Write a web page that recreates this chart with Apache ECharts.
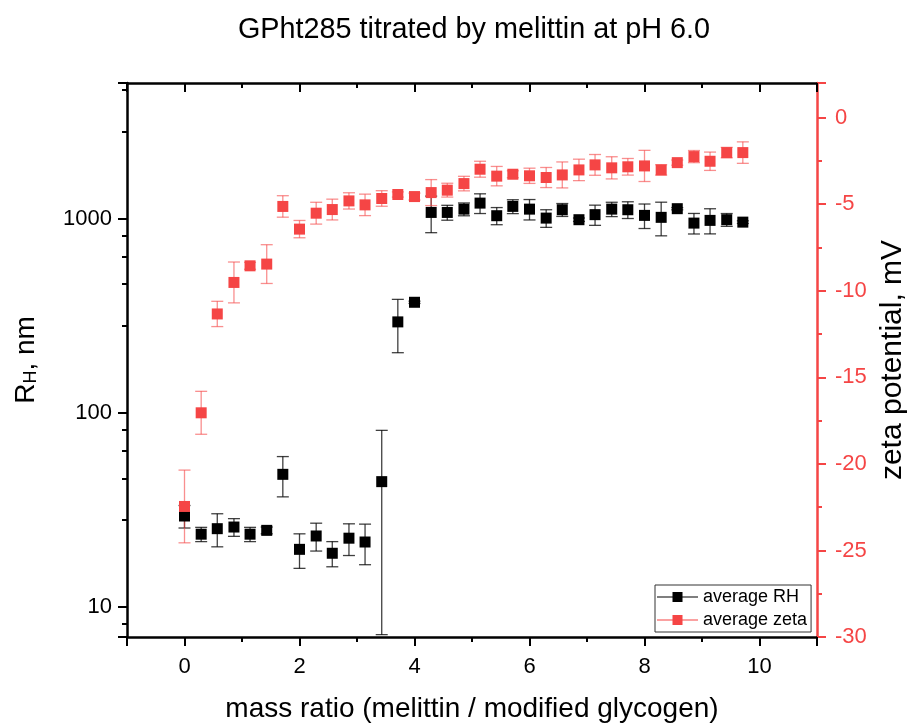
<!DOCTYPE html>
<html><head><meta charset="utf-8">
<script src="https://cdn.jsdelivr.net/npm/echarts@6/dist/echarts.min.js"></script>
<style>html,body{margin:0;padding:0;background:#fff}#c{width:907px;height:724px}</style>
</head><body><div id="c"></div>
<script>
const massRatio = [0, 0.29, 0.57, 0.86, 1.14, 1.43, 1.71, 2.0, 2.29, 2.57, 2.86, 3.14, 3.43, 3.71, 4.0, 4.29, 4.57, 4.86, 5.14, 5.43, 5.71, 6.0, 6.29, 6.57, 6.86, 7.14, 7.43, 7.71, 8.0, 8.29, 8.57, 8.86, 9.14, 9.43, 9.71];
const avgRH = [29.4, 23.7, 25.3, 25.8, 23.7, 24.8, 48.2, 19.8, 23.2, 18.9, 22.6, 21.6, 44.2, 294, 371, 1077, 1077, 1120, 1203, 1036, 1157, 1120, 1007, 1112, 988, 1049, 1120, 1112, 1040, 1016, 1126, 949, 980, 988, 960];
const errRH = [3.9, 2, 4.9, 2.7, 2, 1, 11.3, 4, 3.8, 2.8, 4.2, 5.1, 37, 90, 5, 230, 95, 85, 140, 105, 95, 135, 105, 85, 20, 125, 95, 110, 150, 200, 15, 115, 145, 75, 15];
const avgZeta = [-22.46, -17.05, -11.34, -9.52, -8.56, -8.46, -5.13, -6.44, -5.52, -5.31, -4.81, -5.04, -4.67, -4.44, -4.56, -4.33, -4.19, -3.81, -2.98, -3.38, -3.27, -3.36, -3.46, -3.31, -3.02, -2.73, -2.90, -2.84, -2.79, -3.02, -2.60, -2.25, -2.52, -2.02, -2.02];
const errZeta = [2.1, 1.24, 0.73, 1.18, 0.2, 1.12, 0.62, 0.5, 0.63, 0.6, 0.47, 0.62, 0.45, 0.15, 0.2, 0.75, 0.4, 0.42, 0.46, 0.56, 0.2, 0.44, 0.58, 0.75, 0.62, 0.6, 0.64, 0.48, 0.9, 0.3, 0.15, 0.35, 0.53, 0.3, 0.62];
const titleText = 'GPht285 titrated by melittin at pH 6.0';
const xName = 'mass ratio (melittin / modified glycogen)';
const zetaName = 'zeta potential, mV';

const RED = '#f54545';
const FONT = 'Liberation Sans';

const rhPts = massRatio.map((x, i) => [x, avgRH[i]]);
const zetaPts = massRatio.map((x, i) => [x, avgZeta[i]]);
const rhErr = massRatio.map((x, i) => [x, avgRH[i] - errRH[i], avgRH[i] + errRH[i]]);
const zetaErr = massRatio.map((x, i) => [x, avgZeta[i] - errZeta[i], avgZeta[i] + errZeta[i]]);

function errRender(color) {
  return function (params, api) {
    const x = api.value(0);
    const lo = api.coord([x, api.value(1)]);
    const hi = api.coord([x, api.value(2)]);
    const hw = 6;
    const style = { stroke: color, lineWidth: 1.3, fill: null };
    return { type: 'group', children: [
      { type: 'line', shape: { x1: lo[0], y1: lo[1], x2: hi[0], y2: hi[1] }, style },
      { type: 'line', shape: { x1: lo[0] - hw, y1: lo[1], x2: lo[0] + hw, y2: lo[1] }, style },
      { type: 'line', shape: { x1: hi[0] - hw, y1: hi[1], x2: hi[0] + hw, y2: hi[1] }, style }
    ]};
  };
}

const legendIcon = 'path://M0,4.6h41v0.8h-41z M15.5,0h10v10h-10z';
const AXW = 2.5;

const chart = echarts.init(document.getElementById('c'), null, { renderer: 'canvas' });
chart.setOption({
  animation: false,
  backgroundColor: '#fff',
  textStyle: { fontFamily: FONT },
  title: { text: titleText, left: 469, textAlign: 'center', top: 11,
    textStyle: { fontFamily: FONT, fontSize: 28.8, fontWeight: 'normal', color: '#000' } },
  grid: { left: 127, right: 90, top: 83, bottom: 87, containLabel: false, outerBoundsMode: 'none' },
  legend: {
    left: 655, top: 585, orient: 'vertical', itemGap: 5, itemWidth: 41, itemHeight: 10,
    borderColor: '#333', borderWidth: 1, padding: [3, 4, 3, 2],
    textStyle: { fontFamily: FONT, fontSize: 18, color: '#000', padding: [0, 0, 0, 0] },
    data: [{ name: 'average RH', icon: legendIcon }, { name: 'average zeta', icon: legendIcon }]
  },
  xAxis: [{
    type: 'value', min: -1, max: 11, splitNumber: 6, position: 'bottom',
    name: xName, nameLocation: 'middle', nameGap: 58,
    nameTextStyle: { fontFamily: FONT, fontSize: 28, color: '#000' },
    axisLine: { show: true, onZero: false, lineStyle: { color: '#000', width: AXW } },
    axisTick: { show: true, inside: false, length: 9, lineStyle: { color: '#000', width: 2 } },
    minorTick: { show: true, splitNumber: 2, length: 5, lineStyle: { color: '#000', width: 2 } },
    axisLabel: { fontFamily: FONT, fontSize: 22, color: '#000', margin: 19, showMinLabel: false, showMaxLabel: false },
    splitLine: { show: false }
  }, {
    type: 'value', min: -1, max: 11, splitNumber: 6, position: 'top',
    axisLine: { show: true, onZero: false, lineStyle: { color: '#000', width: AXW } },
    axisTick: { show: true, inside: true, length: 9, lineStyle: { color: '#000', width: 2 } },
    minorTick: { show: true, splitNumber: 2, length: 5, lineStyle: { color: '#000', width: 2 } },
    axisLabel: { show: false },
    splitLine: { show: false }
  }],
  yAxis: [{
    type: 'log', logBase: 10, min: 7, max: 5000, position: 'left',
    name: '{a|R}{s|H}{a|, nm}', nameLocation: 'middle', nameGap: 87,
    nameTextStyle: { rich: {
      a: { fontFamily: FONT, fontSize: 28, color: '#000' },
      s: { fontFamily: FONT, fontSize: 18, color: '#000', verticalAlign: 'bottom', padding: [10, 0, 0, 0] } } },
    axisLine: { show: true, onZero: false, lineStyle: { color: '#000', width: AXW } },
    axisTick: { show: true, inside: false, length: 9, lineStyle: { color: '#000', width: 2 } },
    minorTick: { show: true, length: 5, lineStyle: { color: '#000', width: 2 } },
    axisLabel: { fontFamily: FONT, fontSize: 22, color: '#000', margin: 15, showMinLabel: false, showMaxLabel: false,
      formatter: v => String(Math.round(v)) },
    splitLine: { show: false }
  }, {
    type: 'value', min: -30, max: 2, interval: 5, position: 'right',
    name: zetaName, nameLocation: 'middle', nameGap: 58, nameRotate: 90,
    nameTextStyle: { fontFamily: FONT, fontSize: 30, color: '#000' },
    axisLine: { show: true, onZero: false, lineStyle: { color: RED, width: AXW } },
    axisTick: { show: true, inside: false, length: 9, lineStyle: { color: RED, width: 2 } },
    minorTick: { show: true, splitNumber: 2, length: 5, lineStyle: { color: RED, width: 2 } },
    axisLabel: { fontFamily: FONT, fontSize: 22, color: RED, margin: 18, showMaxLabel: false },
    splitLine: { show: false }
  }],
  series: [
    { name: 'average RH err', type: 'custom', xAxisIndex: 0, yAxisIndex: 0, data: rhErr,
      renderItem: errRender('rgba(0,0,0,0.75)'), encode: { x: 0, y: [1, 2] }, z: 2, silent: true },
    { name: 'average zeta err', type: 'custom', xAxisIndex: 0, yAxisIndex: 1, data: zetaErr,
      renderItem: errRender('rgba(245,69,69,0.6)'), encode: { x: 0, y: [1, 2] }, z: 2, silent: true },
    { name: 'average RH', type: 'scatter', xAxisIndex: 0, yAxisIndex: 0, data: rhPts,
      symbol: 'rect', symbolSize: 11, itemStyle: { color: '#000', opacity: 1 }, z: 3 },
    { name: 'average zeta', type: 'scatter', xAxisIndex: 0, yAxisIndex: 1, data: zetaPts,
      symbol: 'rect', symbolSize: 11, itemStyle: { color: RED, opacity: 1 }, z: 3 }
  ]
});
</script></body></html>
